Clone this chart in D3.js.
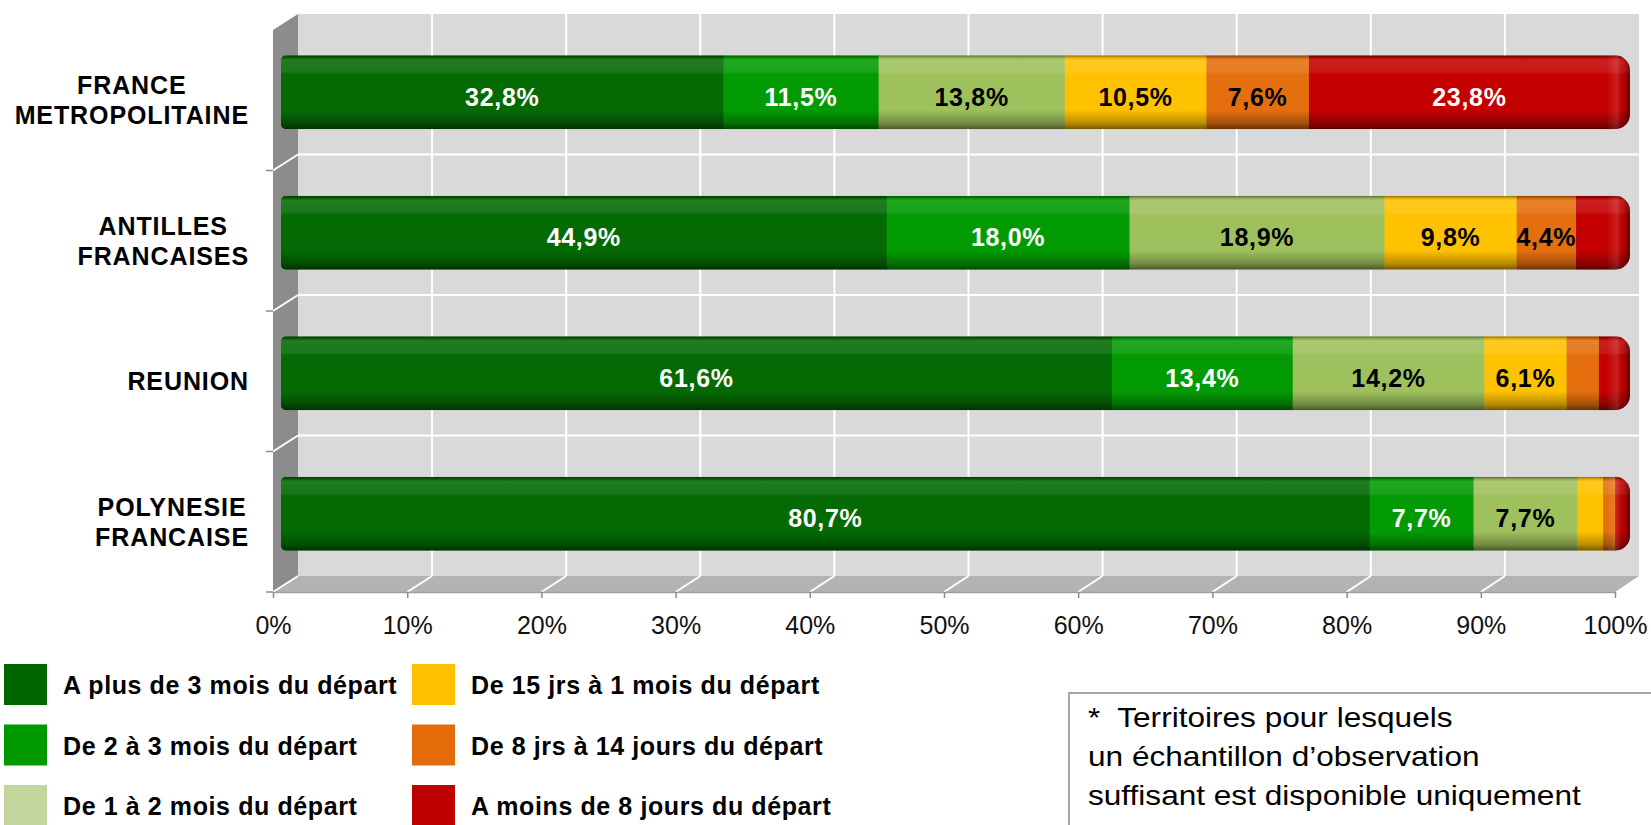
<!DOCTYPE html>
<html>
<head>
<meta charset="utf-8">
<script src="https://cdn.jsdelivr.net/npm/d3@7"></script>
<style>
  body { margin: 0; background: #fff; }
  text { font-family: "Liberation Sans", Arial, sans-serif; }
</style>
</head>
<body>
<svg id="chart" width="1651" height="825"></svg>
<script>
// data (percent)
const categories = ["FRANCE METROPOLITAINE", "ANTILLES FRANCAISES", "REUNION", "POLYNESIE FRANCAISE"]
const seriesNames = [
    "A plus de 3 mois du départ", "De 2 à 3 mois du départ", "De 1 à 2 mois du départ",
    "De 15 jrs à 1 mois du départ", "De 8 jrs à 14 jours du départ", "A moins de 8 jours du départ"
]
const plus3mois = [32.8, 44.9, 61.6, 80.7]
const de2a3mois = [11.5, 18.0, 13.4, 7.7]
const de1a2mois = [13.8, 18.9, 14.2, 7.7]
const de15jrsA1mois = [10.5, 9.8, 6.1, 1.9]
const de8a14jours = [7.6, 4.4, 2.4, 0.9]
const moins8jours = [23.8, 4.0, 2.3, 1.1]
const tickValues = [0, 10, 20, 30, 40, 50, 60, 70, 80, 90, 100]
const note = ["*  Territoires pour lesquels", "un échantillon d’observation", "suffisant est disponible uniquement"]

const series = [plus3mois, de2a3mois, de1a2mois, de15jrsA1mois, de8a14jours, moins8jours]
const barColors = ["#046a04", "#039b03", "#9fc15d", "#ffc200", "#e56f0e", "#c40000"]
const legendColors = ["#006600", "#009900", "#c3d69b", "#ffc000", "#e46c0a", "#c00000"]
const labelColors = ["#fff", "#fff", "#000", "#000", "#000", "#fff"]

const svg = d3.select("#chart")
const defs = svg.append("defs")

// 3d box: back wall, pushed back by (dx, -dy) from the front
const dx = 25, dy = 16
const backTop = 14, backBottom = 576
const xBack = d3.scaleLinear().domain([0, 100]).range([298, 1639])
const xFront = d3.scaleLinear().domain([0, 100]).range([273, 1615])
const xBar = d3.scaleLinear().domain([0, 100]).range([281, 1630])
const y = d3.scaleBand().domain(categories).range([backTop, backBottom]).padding(0)

const rows = categories.map((c, i) => {
    const r = { cat: c }
    seriesNames.forEach((s, j) => r[s] = series[j][i])
    return r
})
const stacked = d3.stack().keys(seriesNames)(rows)

// back wall
svg.append("rect")
    .attr("x", xBack(0)).attr("y", backTop)
    .attr("width", xBack(100) - xBack(0)).attr("height", backBottom - backTop)
    .attr("fill", "#d9d9d9")

// left wall
svg.append("path")
    .attr("d", `M${xBack(0) - dx},${backTop + dy}L${xBack(0)},${backTop}L${xBack(0)},${backBottom}L${xBack(0) - dx},${backBottom + dy}Z`)
    .attr("fill", "#8c8c8c")

// floor
svg.append("path")
    .attr("d", `M${xFront(0)},${backBottom + dy}L${xBack(0)},${backBottom}L${xBack(100)},${backBottom}L${xFront(100)},${backBottom + dy}Z`)
    .attr("fill", "#b3b3b3")

const grid = svg.append("g").attr("stroke", "#fff").attr("stroke-width", 2)

// vertical grid on the back wall and its continuation on the floor
grid.selectAll(".vg").data(tickValues.slice(1, -1)).join("line")
    .attr("x1", d => xBack(d)).attr("x2", d => xBack(d))
    .attr("y1", backTop).attr("y2", backBottom)
grid.selectAll(".fg").data(tickValues.slice(0, -1)).join("line")
    .attr("x1", d => xBack(d)).attr("x2", d => xFront(d))
    .attr("y1", backBottom).attr("y2", backBottom + dy)

// horizontal grid between categories
const bounds = d3.range(1, categories.length).map(i => backTop + i * y.step())
grid.selectAll(".hg").data(bounds).join("line")
    .attr("x1", xBack(0)).attr("x2", xBack(100))
    .attr("y1", d => d).attr("y2", d => d)
grid.selectAll(".lg").data(bounds).join("line")
    .attr("x1", xBack(0)).attr("x2", xBack(0) - dx)
    .attr("y1", d => d).attr("y2", d => d + dy)

// category ticks on the front edge
svg.append("g").attr("stroke", "#8c8c8c").attr("stroke-width", 1.5)
    .selectAll("line").data(bounds.concat([backBottom])).join("line")
    .attr("x1", xBack(0) - dx - 7).attr("x2", xBack(0) - dx)
    .attr("y1", d => d + dy).attr("y2", d => d + dy)

// x axis on the front edge of the floor
const xAxis = svg.append("g")
    .attr("transform", `translate(0,${backBottom + dy})`)
    .call(d3.axisBottom(xFront).tickValues(tickValues).tickFormat(d => d + "%")
        .tickSize(6).tickSizeOuter(0).tickPadding(18))
xAxis.select(".domain").attr("stroke", "#a0a0a0").attr("stroke-width", 1.5)
xAxis.selectAll(".tick line").attr("stroke", "#8c8c8c").attr("stroke-width", 1.5)
xAxis.selectAll(".tick text")
    .attr("font-size", 25).attr("fill", "#111")
    .style("font-family", '"Liberation Sans", Arial, sans-serif')

// bar shading
const shade = defs.append("linearGradient").attr("id", "shade")
    .attr("x1", 0).attr("y1", 0).attr("x2", 0).attr("y2", 1)
;[[0, "#000", .45], [.03, "#000", .12], [.06, "#fff", .12], [.22, "#fff", .09], [.26, "#fff", 0],
  [.74, "#000", 0], [.92, "#000", .28], [1, "#000", .55]].forEach(([o, c, a]) =>
    shade.append("stop").attr("offset", o).attr("stop-color", c).attr("stop-opacity", a))
const endShade = defs.append("linearGradient").attr("id", "endShade")
    .attr("x1", 0).attr("y1", 0).attr("x2", 1).attr("y2", 0)
;[[0, "#fff", 0], [.45, "#fff", .12], [.7, "#000", .05], [1, "#000", .45]].forEach(([o, c, a]) =>
    endShade.append("stop").attr("offset", o).attr("stop-color", c).attr("stop-opacity", a))

const barH = y.bandwidth() * 0.525
const barY = c => y(c) + y.bandwidth() / 2 + dy / 2 - barH / 2

function barPath(x0, x1, y0, h, rl, rr) {
    return `M${x0 + rl},${y0}H${x1 - rr}A${rr},${rr} 0 0 1 ${x1},${y0 + rr}V${y0 + h - rr}`
        + `A${rr},${rr} 0 0 1 ${x1 - rr},${y0 + h}H${x0 + rl}A${rl},${rl} 0 0 1 ${x0},${y0 + h - rl}`
        + `V${y0 + rl}A${rl},${rl} 0 0 1 ${x0 + rl},${y0}Z`
}

categories.forEach((c, i) => {
    const y0 = barY(c)
    const total = d3.sum(series, s => s[i])
    defs.append("clipPath").attr("id", "clip" + i)
        .append("path").attr("d", barPath(xBar(0), xBar(total), y0, barH, 5, 15))
    const g = svg.append("g").attr("clip-path", `url(#clip${i})`)
    stacked.forEach((s, j) => {
        g.append("rect")
            .attr("x", xBar(s[i][0])).attr("y", y0)
            .attr("width", xBar(s[i][1]) - xBar(s[i][0]) + 0.5).attr("height", barH)
            .attr("fill", barColors[j])
    })
    g.append("rect").attr("x", xBar(0)).attr("y", y0)
        .attr("width", xBar(total) - xBar(0)).attr("height", barH)
        .attr("fill", "url(#shade)")
    g.append("rect").attr("x", xBar(total) - 24).attr("y", y0)
        .attr("width", 24).attr("height", barH)
        .attr("fill", "url(#endShade)")

    // value labels
    stacked.forEach((s, j) => {
        const v = series[j][i]
        if (v < 4.3) return
        svg.append("text")
            .attr("x", xBar((s[i][0] + s[i][1]) / 2)).attr("y", y0 + barH / 2 + 13.5)
            .attr("text-anchor", "middle")
            .attr("font-size", 25).attr("font-weight", "bold").attr("letter-spacing", 0.7)
            .attr("fill", labelColors[j])
            .text(d3.format(".1f")(v).replace(".", ",") + "%")
    })
})

// category labels, block centred and pushed against the axis
const labelRight = 249
categories.forEach(c => {
    const lines = c.split(" ")
    const cy = y(c) + y.bandwidth() / 2 + dy
    const g = svg.append("g")
    const texts = lines.map((l, k) => g.append("text")
        .attr("y", cy + 9 + (k - (lines.length - 1) / 2) * 30)
        .attr("font-size", 25).attr("font-weight", "bold").attr("letter-spacing", 0.9)
        .attr("fill", "#000").text(l))
    const w = d3.max(texts, t => t.node().getComputedTextLength())
    texts.forEach(t => t.attr("x", labelRight - w / 2).attr("text-anchor", "middle"))
})

// legend, two columns of three
const legend = svg.append("g")
seriesNames.forEach((s, j) => {
    const col = Math.floor(j / 3), row = j % 3
    const lx = col === 0 ? 4 : 412
    const g = legend.append("g").attr("transform", `translate(${lx},${664 + row * 60.5})`)
    g.append("rect").attr("width", 43).attr("height", 41).attr("fill", legendColors[j])
    g.append("text").attr("x", 59).attr("y", 30)
        .attr("font-size", 25).attr("font-weight", "bold").attr("letter-spacing", 0.6)
        .attr("fill", "#000").text(s)
})

// note box
svg.append("rect").attr("x", 1069).attr("y", 693).attr("width", 600).attr("height", 200)
    .attr("fill", "#fff").attr("stroke", "#a6a6a6").attr("stroke-width", 2)
svg.append("g").attr("transform", "translate(1088,0) scale(1.17,1)")
    .selectAll("text").data(note).join("text")
    .attr("x", 0).attr("y", (d, k) => 727 + k * 39)
    .attr("font-size", 27).attr("fill", "#000")
    .style("white-space", "pre")
    .text(d => d)
</script>
</body>
</html>
